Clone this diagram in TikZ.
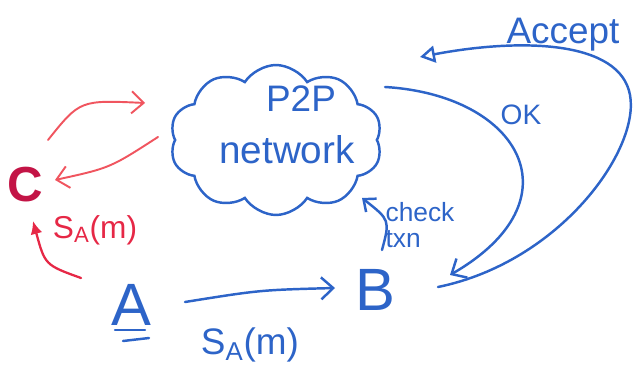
\documentclass[tikz,border=0pt]{standalone}
\usepackage{fontspec}
\setmainfont{Liberation Sans}
\usetikzlibrary{arrows.meta,shapes.symbols,calc}
\definecolor{penblue}{RGB}{45,100,200}
\definecolor{penred}{RGB}{240,85,95}
\definecolor{penredb}{RGB}{230,40,70}
\definecolor{pencrim}{RGB}{195,20,70}
\tikzset{
 fs/.style={font=\fontsize{#1}{#1}\selectfont},
 bluepen/.style={draw=penblue, line width=1.4pt, line cap=round},
 redpen/.style={draw=penred, line width=1.1pt, line cap=round},
 barb/.style={-{Straight Barb[length=2.4mm,width=4.4mm]}},
 lbl/.style={inner sep=0pt, text=penblue},
}
\begin{document}
\begin{tikzpicture}[x=0.02cm,y=-0.02cm]
\useasboundingbox (0,0) rectangle (641,381);
% cloud
\node[cloud, cloud puffs=10, cloud puff arc=115, aspect=1.45, bluepen,
      minimum width=4.25cm, minimum height=3cm] (cloud) at (276,140) {};
\node[lbl, fs=21] (p2p) at (301,99) {P2P};
\node[lbl, fs=22] (net) at (287,150) {network};
% letters
\node[lbl, fs=34] (A) at (131,305) {A};
\node[lbl, fs=34] (B) at (375,290) {B};
\node[inner sep=0pt, text=pencrim, fs=28] (C) at (25,185) {\bfseries C};
% underline of A
\draw[bluepen] ($(A)+(-16,25)$) -- ($(A)+(14,25)$);
\draw[bluepen] ($(A)+(-8,36)$) -- ($(A)+(18,33)$);
% blue connectors
\draw[bluepen, barb] ($(A)+(54,-3)$) .. controls (260,290) .. ($(B)+(-40,-2)$);
\draw[bluepen, barb] ($(cloud)+(109,-53)$) .. controls (520,95) and (580,200) .. ($(B)+(75,-15)$);
\draw[bluepen, -{Triangle[open,length=3mm,width=3.4mm]}] ($(B)+(63,-3)$)
   .. controls (560,262) and (640,150) .. (630,95)
   .. controls (620,40) and (520,38) .. ($(cloud)+(144,-83)$);
\draw[bluepen, -{Straight Barb[length=2mm,width=3.4mm]}] ($(B)+(7,-40)$) .. controls (390,220) .. ($(cloud)+(86,58)$);
% red connectors
\draw[redpen, barb] ($(C)+(23,-45)$) .. controls (80,100) .. ($(cloud)+(-131,-37)$);
\draw[redpen, barb] ($(cloud)+(-118,-3)$) .. controls (110,168) .. ($(C)+(30,-5)$);
\draw[draw=penredb, line width=1.3pt, line cap=round, -{Latex[length=2.6mm,width=2.4mm]}]
   ($(A)+(-50,-27)$) .. controls (45,265) .. ($(C)+(8,36)$);
% labels
\node[lbl, text=penredb, fs=18] (sa1) at (95,230) {S\textsubscript{A}(m)};
\node[lbl, fs=21] (sa2) at (250,345) {S\textsubscript{A}(m)};
\node[lbl, fs=15, align=left] (chk) at (420,225) {check\\ txn};
\node[lbl, fs=16] (ok) at (521,115) {OK};
\node[lbl, fs=21] (acc) at (563,35) {Accept};
\end{tikzpicture}
\end{document}
